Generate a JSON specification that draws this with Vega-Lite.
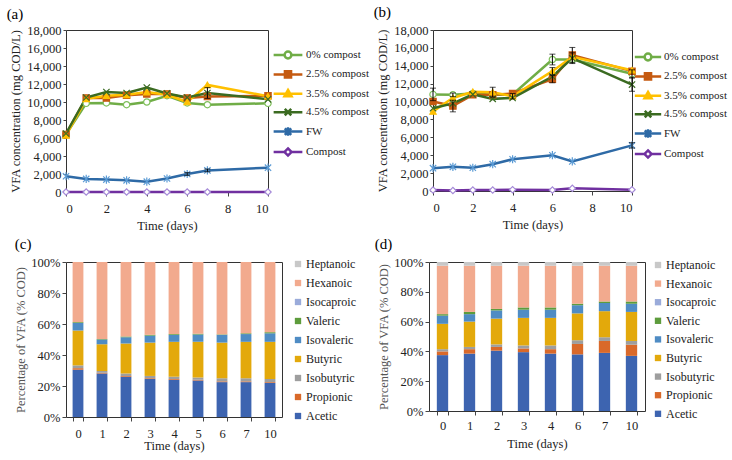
{
  "$schema": "https://vega.github.io/schema/vega-lite/v6.json",
  "background": "white",
  "padding": {"left": 6, "top": 4, "right": 0, "bottom": 0},
  "datasets": {
    "lines": [
      {"panel":"a","day":0,"series":"0% compost","v":6400,"err":0},
      {"panel":"a","day":0,"series":"2.5% compost","v":6400,"err":0},
      {"panel":"a","day":0,"series":"3.5% compost","v":6300,"err":0},
      {"panel":"a","day":0,"series":"4.5% compost","v":6500,"err":0},
      {"panel":"a","day":0,"series":"FW","v":1750,"err":0},
      {"panel":"a","day":0,"series":"Compost","v":0,"err":0},
      {"panel":"a","day":1,"series":"0% compost","v":9850,"err":0},
      {"panel":"a","day":1,"series":"2.5% compost","v":10450,"err":0},
      {"panel":"a","day":1,"series":"3.5% compost","v":10350,"err":0},
      {"panel":"a","day":1,"series":"4.5% compost","v":10500,"err":0},
      {"panel":"a","day":1,"series":"FW","v":1450,"err":0},
      {"panel":"a","day":1,"series":"Compost","v":0,"err":0},
      {"panel":"a","day":2,"series":"0% compost","v":9900,"err":0},
      {"panel":"a","day":2,"series":"2.5% compost","v":10450,"err":0},
      {"panel":"a","day":2,"series":"3.5% compost","v":10700,"err":0},
      {"panel":"a","day":2,"series":"4.5% compost","v":11100,"err":0},
      {"panel":"a","day":2,"series":"FW","v":1380,"err":0},
      {"panel":"a","day":2,"series":"Compost","v":0,"err":0},
      {"panel":"a","day":3,"series":"0% compost","v":9700,"err":0},
      {"panel":"a","day":3,"series":"2.5% compost","v":10750,"err":0},
      {"panel":"a","day":3,"series":"3.5% compost","v":10800,"err":0},
      {"panel":"a","day":3,"series":"4.5% compost","v":11000,"err":0},
      {"panel":"a","day":3,"series":"FW","v":1300,"err":0},
      {"panel":"a","day":3,"series":"Compost","v":0,"err":0},
      {"panel":"a","day":4,"series":"0% compost","v":10000,"err":0},
      {"panel":"a","day":4,"series":"2.5% compost","v":10900,"err":0},
      {"panel":"a","day":4,"series":"3.5% compost","v":11100,"err":0},
      {"panel":"a","day":4,"series":"4.5% compost","v":11600,"err":0},
      {"panel":"a","day":4,"series":"FW","v":1150,"err":0},
      {"panel":"a","day":4,"series":"Compost","v":0,"err":0},
      {"panel":"a","day":5,"series":"0% compost","v":10700,"err":0},
      {"panel":"a","day":5,"series":"2.5% compost","v":10900,"err":0},
      {"panel":"a","day":5,"series":"3.5% compost","v":10800,"err":0},
      {"panel":"a","day":5,"series":"4.5% compost","v":10950,"err":0},
      {"panel":"a","day":5,"series":"FW","v":1500,"err":0},
      {"panel":"a","day":5,"series":"Compost","v":0,"err":0},
      {"panel":"a","day":6,"series":"0% compost","v":9900,"err":0},
      {"panel":"a","day":6,"series":"2.5% compost","v":10450,"err":0},
      {"panel":"a","day":6,"series":"3.5% compost","v":10000,"err":0},
      {"panel":"a","day":6,"series":"4.5% compost","v":10500,"err":0},
      {"panel":"a","day":6,"series":"FW","v":2000,"err":150},
      {"panel":"a","day":6,"series":"Compost","v":0,"err":0},
      {"panel":"a","day":7,"series":"0% compost","v":9700,"err":0},
      {"panel":"a","day":7,"series":"2.5% compost","v":10600,"err":0},
      {"panel":"a","day":7,"series":"3.5% compost","v":11900,"err":0},
      {"panel":"a","day":7,"series":"4.5% compost","v":11000,"err":600},
      {"panel":"a","day":7,"series":"FW","v":2400,"err":150},
      {"panel":"a","day":7,"series":"Compost","v":0,"err":0},
      {"panel":"a","day":10,"series":"0% compost","v":9850,"err":0},
      {"panel":"a","day":10,"series":"2.5% compost","v":10700,"err":0},
      {"panel":"a","day":10,"series":"3.5% compost","v":10650,"err":0},
      {"panel":"a","day":10,"series":"4.5% compost","v":10300,"err":0},
      {"panel":"a","day":10,"series":"FW","v":2700,"err":0},
      {"panel":"a","day":10,"series":"Compost","v":0,"err":0},
      {"panel":"b","day":0,"series":"0% compost","v":10800,"err":700},
      {"panel":"b","day":0,"series":"2.5% compost","v":10000,"err":0},
      {"panel":"b","day":0,"series":"3.5% compost","v":8900,"err":0},
      {"panel":"b","day":0,"series":"4.5% compost","v":9250,"err":0},
      {"panel":"b","day":0,"series":"FW","v":2550,"err":0},
      {"panel":"b","day":0,"series":"Compost","v":100,"err":0},
      {"panel":"b","day":1,"series":"0% compost","v":10750,"err":200},
      {"panel":"b","day":1,"series":"2.5% compost","v":9500,"err":650},
      {"panel":"b","day":1,"series":"3.5% compost","v":10400,"err":0},
      {"panel":"b","day":1,"series":"4.5% compost","v":9800,"err":0},
      {"panel":"b","day":1,"series":"FW","v":2700,"err":0},
      {"panel":"b","day":1,"series":"Compost","v":50,"err":0},
      {"panel":"b","day":2,"series":"0% compost","v":10900,"err":0},
      {"panel":"b","day":2,"series":"2.5% compost","v":10750,"err":0},
      {"panel":"b","day":2,"series":"3.5% compost","v":11100,"err":0},
      {"panel":"b","day":2,"series":"4.5% compost","v":10800,"err":0},
      {"panel":"b","day":2,"series":"FW","v":2600,"err":0},
      {"panel":"b","day":2,"series":"Compost","v":100,"err":0},
      {"panel":"b","day":3,"series":"0% compost","v":10750,"err":0},
      {"panel":"b","day":3,"series":"2.5% compost","v":10750,"err":0},
      {"panel":"b","day":3,"series":"3.5% compost","v":11050,"err":550},
      {"panel":"b","day":3,"series":"4.5% compost","v":10300,"err":0},
      {"panel":"b","day":3,"series":"FW","v":3000,"err":0},
      {"panel":"b","day":3,"series":"Compost","v":100,"err":0},
      {"panel":"b","day":4,"series":"0% compost","v":10800,"err":0},
      {"panel":"b","day":4,"series":"2.5% compost","v":10900,"err":0},
      {"panel":"b","day":4,"series":"3.5% compost","v":10600,"err":300},
      {"panel":"b","day":4,"series":"4.5% compost","v":10400,"err":0},
      {"panel":"b","day":4,"series":"FW","v":3550,"err":0},
      {"panel":"b","day":4,"series":"Compost","v":150,"err":0},
      {"panel":"b","day":6,"series":"0% compost","v":14700,"err":600},
      {"panel":"b","day":6,"series":"2.5% compost","v":12500,"err":400},
      {"panel":"b","day":6,"series":"3.5% compost","v":13400,"err":400},
      {"panel":"b","day":6,"series":"4.5% compost","v":12800,"err":0},
      {"panel":"b","day":6,"series":"FW","v":4000,"err":0},
      {"panel":"b","day":6,"series":"Compost","v":100,"err":0},
      {"panel":"b","day":7,"series":"0% compost","v":14700,"err":0},
      {"panel":"b","day":7,"series":"2.5% compost","v":15200,"err":850},
      {"panel":"b","day":7,"series":"3.5% compost","v":15000,"err":0},
      {"panel":"b","day":7,"series":"4.5% compost","v":14850,"err":600},
      {"panel":"b","day":7,"series":"FW","v":3300,"err":0},
      {"panel":"b","day":7,"series":"Compost","v":300,"err":0},
      {"panel":"b","day":10,"series":"0% compost","v":13100,"err":450},
      {"panel":"b","day":10,"series":"2.5% compost","v":13400,"err":0},
      {"panel":"b","day":10,"series":"3.5% compost","v":13500,"err":0},
      {"panel":"b","day":10,"series":"4.5% compost","v":11900,"err":750},
      {"panel":"b","day":10,"series":"FW","v":5100,"err":300},
      {"panel":"b","day":10,"series":"Compost","v":150,"err":0}
    ],
    "bars": [
      {"panel":"c","day":0,"acid":"Acetic","pct":30.5},{"panel":"c","day":0,"acid":"Propionic","pct":1.0},{"panel":"c","day":0,"acid":"Isobutyric","pct":1.8},{"panel":"c","day":0,"acid":"Butyric","pct":22.5},{"panel":"c","day":0,"acid":"Isovaleric","pct":4.9},{"panel":"c","day":0,"acid":"Valeric","pct":0.5},{"panel":"c","day":0,"acid":"Isocaproic","pct":0},{"panel":"c","day":0,"acid":"Hexanoic","pct":38.8},{"panel":"c","day":0,"acid":"Heptanoic","pct":0},
      {"panel":"c","day":1,"acid":"Acetic","pct":28.0},{"panel":"c","day":1,"acid":"Propionic","pct":0.5},{"panel":"c","day":1,"acid":"Isobutyric","pct":1.2},{"panel":"c","day":1,"acid":"Butyric","pct":17.3},{"panel":"c","day":1,"acid":"Isovaleric","pct":3.0},{"panel":"c","day":1,"acid":"Valeric","pct":0.4},{"panel":"c","day":1,"acid":"Isocaproic","pct":0},{"panel":"c","day":1,"acid":"Hexanoic","pct":49.6},{"panel":"c","day":1,"acid":"Heptanoic","pct":0},
      {"panel":"c","day":2,"acid":"Acetic","pct":26.0},{"panel":"c","day":2,"acid":"Propionic","pct":0.5},{"panel":"c","day":2,"acid":"Isobutyric","pct":1.5},{"panel":"c","day":2,"acid":"Butyric","pct":19.5},{"panel":"c","day":2,"acid":"Isovaleric","pct":4.0},{"panel":"c","day":2,"acid":"Valeric","pct":0.5},{"panel":"c","day":2,"acid":"Isocaproic","pct":0},{"panel":"c","day":2,"acid":"Hexanoic","pct":48.0},{"panel":"c","day":2,"acid":"Heptanoic","pct":0},
      {"panel":"c","day":3,"acid":"Acetic","pct":24.5},{"panel":"c","day":3,"acid":"Propionic","pct":0.5},{"panel":"c","day":3,"acid":"Isobutyric","pct":1.5},{"panel":"c","day":3,"acid":"Butyric","pct":21.5},{"panel":"c","day":3,"acid":"Isovaleric","pct":4.5},{"panel":"c","day":3,"acid":"Valeric","pct":0.5},{"panel":"c","day":3,"acid":"Isocaproic","pct":0},{"panel":"c","day":3,"acid":"Hexanoic","pct":47.0},{"panel":"c","day":3,"acid":"Heptanoic","pct":0},
      {"panel":"c","day":4,"acid":"Acetic","pct":24.0},{"panel":"c","day":4,"acid":"Propionic","pct":0.5},{"panel":"c","day":4,"acid":"Isobutyric","pct":1.5},{"panel":"c","day":4,"acid":"Butyric","pct":22.5},{"panel":"c","day":4,"acid":"Isovaleric","pct":4.5},{"panel":"c","day":4,"acid":"Valeric","pct":0.5},{"panel":"c","day":4,"acid":"Isocaproic","pct":0},{"panel":"c","day":4,"acid":"Hexanoic","pct":46.5},{"panel":"c","day":4,"acid":"Heptanoic","pct":0},
      {"panel":"c","day":5,"acid":"Acetic","pct":23.5},{"panel":"c","day":5,"acid":"Propionic","pct":0.5},{"panel":"c","day":5,"acid":"Isobutyric","pct":1.5},{"panel":"c","day":5,"acid":"Butyric","pct":23.0},{"panel":"c","day":5,"acid":"Isovaleric","pct":4.7},{"panel":"c","day":5,"acid":"Valeric","pct":0.5},{"panel":"c","day":5,"acid":"Isocaproic","pct":0},{"panel":"c","day":5,"acid":"Hexanoic","pct":46.3},{"panel":"c","day":5,"acid":"Heptanoic","pct":0},
      {"panel":"c","day":6,"acid":"Acetic","pct":22.5},{"panel":"c","day":6,"acid":"Propionic","pct":0.5},{"panel":"c","day":6,"acid":"Isobutyric","pct":2.0},{"panel":"c","day":6,"acid":"Butyric","pct":23.0},{"panel":"c","day":6,"acid":"Isovaleric","pct":5.0},{"panel":"c","day":6,"acid":"Valeric","pct":0.3},{"panel":"c","day":6,"acid":"Isocaproic","pct":0},{"panel":"c","day":6,"acid":"Hexanoic","pct":46.7},{"panel":"c","day":6,"acid":"Heptanoic","pct":0},
      {"panel":"c","day":7,"acid":"Acetic","pct":22.5},{"panel":"c","day":7,"acid":"Propionic","pct":0.5},{"panel":"c","day":7,"acid":"Isobutyric","pct":2.0},{"panel":"c","day":7,"acid":"Butyric","pct":23.5},{"panel":"c","day":7,"acid":"Isovaleric","pct":5.0},{"panel":"c","day":7,"acid":"Valeric","pct":0.5},{"panel":"c","day":7,"acid":"Isocaproic","pct":0},{"panel":"c","day":7,"acid":"Hexanoic","pct":46.0},{"panel":"c","day":7,"acid":"Heptanoic","pct":0},
      {"panel":"c","day":10,"acid":"Acetic","pct":22.0},{"panel":"c","day":10,"acid":"Propionic","pct":0.5},{"panel":"c","day":10,"acid":"Isobutyric","pct":2.0},{"panel":"c","day":10,"acid":"Butyric","pct":24.0},{"panel":"c","day":10,"acid":"Isovaleric","pct":5.5},{"panel":"c","day":10,"acid":"Valeric","pct":0.7},{"panel":"c","day":10,"acid":"Isocaproic","pct":0},{"panel":"c","day":10,"acid":"Hexanoic","pct":45.3},{"panel":"c","day":10,"acid":"Heptanoic","pct":0},
      {"panel":"d","day":0,"acid":"Acetic","pct":37.5},{"panel":"d","day":0,"acid":"Propionic","pct":2.5},{"panel":"d","day":0,"acid":"Isobutyric","pct":1.5},{"panel":"d","day":0,"acid":"Butyric","pct":17.0},{"panel":"d","day":0,"acid":"Isovaleric","pct":5.5},{"panel":"d","day":0,"acid":"Valeric","pct":1.0},{"panel":"d","day":0,"acid":"Isocaproic","pct":0},{"panel":"d","day":0,"acid":"Hexanoic","pct":32.5},{"panel":"d","day":0,"acid":"Heptanoic","pct":2.5},
      {"panel":"d","day":1,"acid":"Acetic","pct":38.5},{"panel":"d","day":1,"acid":"Propionic","pct":3.0},{"panel":"d","day":1,"acid":"Isobutyric","pct":1.5},{"panel":"d","day":1,"acid":"Butyric","pct":17.0},{"panel":"d","day":1,"acid":"Isovaleric","pct":5.0},{"panel":"d","day":1,"acid":"Valeric","pct":1.5},{"panel":"d","day":1,"acid":"Isocaproic","pct":0},{"panel":"d","day":1,"acid":"Hexanoic","pct":31.0},{"panel":"d","day":1,"acid":"Heptanoic","pct":2.5},
      {"panel":"d","day":2,"acid":"Acetic","pct":40.5},{"panel":"d","day":2,"acid":"Propionic","pct":2.5},{"panel":"d","day":2,"acid":"Isobutyric","pct":1.7},{"panel":"d","day":2,"acid":"Butyric","pct":17.3},{"panel":"d","day":2,"acid":"Isovaleric","pct":5.5},{"panel":"d","day":2,"acid":"Valeric","pct":1.0},{"panel":"d","day":2,"acid":"Isocaproic","pct":0},{"panel":"d","day":2,"acid":"Hexanoic","pct":29.0},{"panel":"d","day":2,"acid":"Heptanoic","pct":2.5},
      {"panel":"d","day":3,"acid":"Acetic","pct":39.5},{"panel":"d","day":3,"acid":"Propionic","pct":2.5},{"panel":"d","day":3,"acid":"Isobutyric","pct":2.0},{"panel":"d","day":3,"acid":"Butyric","pct":18.5},{"panel":"d","day":3,"acid":"Isovaleric","pct":5.5},{"panel":"d","day":3,"acid":"Valeric","pct":1.5},{"panel":"d","day":3,"acid":"Isocaproic","pct":0},{"panel":"d","day":3,"acid":"Hexanoic","pct":28.0},{"panel":"d","day":3,"acid":"Heptanoic","pct":2.5},
      {"panel":"d","day":4,"acid":"Acetic","pct":38.5},{"panel":"d","day":4,"acid":"Propionic","pct":3.0},{"panel":"d","day":4,"acid":"Isobutyric","pct":2.5},{"panel":"d","day":4,"acid":"Butyric","pct":18.5},{"panel":"d","day":4,"acid":"Isovaleric","pct":5.5},{"panel":"d","day":4,"acid":"Valeric","pct":1.5},{"panel":"d","day":4,"acid":"Isocaproic","pct":0},{"panel":"d","day":4,"acid":"Hexanoic","pct":28.0},{"panel":"d","day":4,"acid":"Heptanoic","pct":2.5},
      {"panel":"d","day":6,"acid":"Acetic","pct":38.0},{"panel":"d","day":6,"acid":"Propionic","pct":7.0},{"panel":"d","day":6,"acid":"Isobutyric","pct":2.5},{"panel":"d","day":6,"acid":"Butyric","pct":18.0},{"panel":"d","day":6,"acid":"Isovaleric","pct":5.5},{"panel":"d","day":6,"acid":"Valeric","pct":1.0},{"panel":"d","day":6,"acid":"Isocaproic","pct":0},{"panel":"d","day":6,"acid":"Hexanoic","pct":25.5},{"panel":"d","day":6,"acid":"Heptanoic","pct":2.5},
      {"panel":"d","day":7,"acid":"Acetic","pct":39.0},{"panel":"d","day":7,"acid":"Propionic","pct":8.0},{"panel":"d","day":7,"acid":"Isobutyric","pct":2.5},{"panel":"d","day":7,"acid":"Butyric","pct":17.5},{"panel":"d","day":7,"acid":"Isovaleric","pct":5.5},{"panel":"d","day":7,"acid":"Valeric","pct":1.0},{"panel":"d","day":7,"acid":"Isocaproic","pct":0},{"panel":"d","day":7,"acid":"Hexanoic","pct":24.0},{"panel":"d","day":7,"acid":"Heptanoic","pct":2.5},
      {"panel":"d","day":10,"acid":"Acetic","pct":37.0},{"panel":"d","day":10,"acid":"Propionic","pct":7.5},{"panel":"d","day":10,"acid":"Isobutyric","pct":2.5},{"panel":"d","day":10,"acid":"Butyric","pct":19.5},{"panel":"d","day":10,"acid":"Isovaleric","pct":5.5},{"panel":"d","day":10,"acid":"Valeric","pct":1.5},{"panel":"d","day":10,"acid":"Isocaproic","pct":0},{"panel":"d","day":10,"acid":"Hexanoic","pct":24.0},{"panel":"d","day":10,"acid":"Heptanoic","pct":2.5}
    ]
  },
  "vconcat": [
    {
      "hconcat": [
        {
          "title": {"text": "(a)", "font": "Liberation Serif", "fontSize": 15, "fontWeight": "normal", "anchor": "start", "frame": "bounds", "offset": 2, "dx": -3},
          "width": 202, "height": 162,
          "data": {"name": "lines"},
          "transform": [{"filter": "datum.panel == 'a'"}],
          "encoding": {
            "x": {"field": "day", "type": "quantitative", "scale": {"domain": [0, 10], "nice": false}, "axis": {"values": [0, 2, 4, 6, 8, 10], "title": "Time (days)", "domain": false, "grid": false, "tickSize": 4, "tickColor": "#444", "labelPadding": 6, "labelFont": "Liberation Serif", "labelFontSize": 12.5, "labelColor": "#222", "titleFont": "Liberation Serif", "titleFontSize": 12.5, "titleFontWeight": "normal", "titleColor": "#222", "titlePadding": 5}},
            "y": {"field": "v", "type": "quantitative", "scale": {"domain": [0, 18000], "nice": false}, "axis": {"values": [0, 2000, 4000, 6000, 8000, 10000, 12000, 14000, 16000, 18000], "format": ",.0f", "title": "VFA concentration (mg COD/L)", "domain": false, "grid": false, "tickSize": 3, "tickColor": "#444", "labelPadding": 2, "labelFont": "Liberation Serif", "labelFontSize": 12.5, "labelColor": "#222", "titleFont": "Liberation Serif", "titleFontSize": 12.5, "titleFontWeight": "normal", "titleColor": "#222", "titlePadding": 4}}
          },
          "layer": [
            {
              "mark": {"type": "line", "strokeWidth": 2.5},
              "encoding": {
                "color": {"field": "series", "type": "nominal", "sort": ["0% compost", "2.5% compost", "3.5% compost", "4.5% compost", "FW", "Compost"],
                  "scale": {"domain": ["0% compost", "2.5% compost", "3.5% compost", "4.5% compost", "FW", "Compost"], "range": ["#70ad47", "#c55a11", "#ffc000", "#3b6b21", "#2e6aa6", "#7030a0"]},
                  "legend": {"title": null, "orient": "none", "legendX": 212, "legendY": 15, "symbolSize": 289, "symbolStrokeWidth": 2.5, "labelOffset": 8, "rowPadding": 0.4, "padding": 0, "labelFont": "Liberation Serif", "labelFontSize": 11, "labelColor": "#222",
                    "encode": {"symbols": {"update": {
                      "shape": {"signal": "datum.value == '0% compost' ? 'M-1.69,0H-0.4M0.4,0H1.69M0.4,0A0.4,0.4 0 1,1 -0.4,0A0.4,0.4 0 1,1 0.4,0Z' : datum.value == '2.5% compost' ? 'M-1.69,0H1.69M-0.36,-0.36H0.36V0.36H-0.36Z' : datum.value == '3.5% compost' ? 'M-1.69,0H1.69M0,-0.45L0.42,0.3H-0.42Z' : datum.value == '4.5% compost' ? 'M-1.69,0H1.69M-0.38,-0.38L0.38,0.38M-0.38,0.38L0.38,-0.38' : datum.value == 'FW' ? 'M-1.69,0H1.69M-0.38,-0.38L0.38,0.38M-0.38,0.38L0.38,-0.38M0,-0.5V0.5' : 'M-1.69,0H-0.42M0.42,0H1.69M0,-0.42L0.42,0L0,0.42L-0.42,0Z'"},
                      "fill": {"signal": "datum.value == '2.5% compost' ? '#c55a11' : datum.value == '3.5% compost' ? '#ffc000' : 'white'"}
                    }}}
                  }
                }
              }
            },
            {
              "mark": {"type": "point", "size": 40, "strokeWidth": 1.2, "opacity": 1},
              "encoding": {
                "shape": {"field": "series", "type": "nominal", "scale": {"domain": ["0% compost", "2.5% compost", "3.5% compost", "4.5% compost", "FW", "Compost"], "range": ["circle", "square", "triangle-up", "M-1,-1L1,1M-1,1L1,-1", "M-1,-1L1,1M-1,1L1,-1M0,-1.3V1.3", "diamond"]}, "legend": null},
                "stroke": {"field": "series", "type": "nominal", "scale": {"domain": ["0% compost", "2.5% compost", "3.5% compost", "4.5% compost", "FW", "Compost"], "range": ["#7ebf5a", "#c55a11", "#ffc000", "#3b6b21", "#5b9bd5", "#a58ad8"]}, "legend": null},
                "fill": {"field": "series", "type": "nominal", "scale": {"domain": ["0% compost", "2.5% compost", "3.5% compost", "4.5% compost", "FW", "Compost"], "range": ["white", "#c55a11", "#ffc000", "white", "white", "white"]}, "legend": null}
              }
            },
            {
              "transform": [{"filter": "datum.err > 0"}],
              "mark": {"type": "errorbar", "ticks": {"size": 6, "color": "#000"}, "rule": {"color": "#000", "strokeWidth": 1}},
              "encoding": {"yError": {"field": "err"}}
            }
          ],
          "resolve": {"scale": {"color": "independent", "shape": "independent", "stroke": "independent", "fill": "independent"}}
        },
        {
          "title": {"text": "(b)", "font": "Liberation Serif", "fontSize": 15, "fontWeight": "normal", "anchor": "start", "frame": "bounds", "offset": 4, "dx": -3},
          "width": 199, "height": 161,
          "data": {"name": "lines"},
          "transform": [{"filter": "datum.panel == 'b'"}],
          "encoding": {
            "x": {"field": "day", "type": "quantitative", "scale": {"domain": [0, 10], "nice": false}, "axis": {"values": [0, 2, 4, 6, 8, 10], "title": "Time (days)", "domain": false, "grid": false, "tickSize": 4, "tickColor": "#444", "labelPadding": 6, "labelFont": "Liberation Serif", "labelFontSize": 12.5, "labelColor": "#222", "titleFont": "Liberation Serif", "titleFontSize": 12.5, "titleFontWeight": "normal", "titleColor": "#222", "titlePadding": 5}},
            "y": {"field": "v", "type": "quantitative", "scale": {"domain": [0, 18000], "nice": false}, "axis": {"values": [0, 2000, 4000, 6000, 8000, 10000, 12000, 14000, 16000, 18000], "format": ",.0f", "title": "VFA concentration (mg COD/L)", "domain": false, "grid": false, "tickSize": 3, "tickColor": "#444", "labelPadding": 2, "labelFont": "Liberation Serif", "labelFontSize": 12.5, "labelColor": "#222", "titleFont": "Liberation Serif", "titleFontSize": 12.5, "titleFontWeight": "normal", "titleColor": "#222", "titlePadding": 4}}
          },
          "layer": [
            {
              "mark": {"type": "line", "strokeWidth": 2.5},
              "encoding": {
                "color": {"field": "series", "type": "nominal", "sort": ["0% compost", "2.5% compost", "3.5% compost", "4.5% compost", "FW", "Compost"],
                  "scale": {"domain": ["0% compost", "2.5% compost", "3.5% compost", "4.5% compost", "FW", "Compost"], "range": ["#70ad47", "#c55a11", "#ffc000", "#3b6b21", "#2e6aa6", "#7030a0"]},
                  "legend": {"title": null, "orient": "none", "legendX": 205, "legendY": 17, "symbolSize": 289, "symbolStrokeWidth": 2.5, "labelOffset": 6, "rowPadding": 0.4, "padding": 0, "labelFont": "Liberation Serif", "labelFontSize": 11, "labelColor": "#222",
                    "encode": {"symbols": {"update": {
                      "shape": {"signal": "datum.value == '0% compost' ? 'M-1.55,0H-0.4M0.4,0H1.55M0.4,0A0.4,0.4 0 1,1 -0.4,0A0.4,0.4 0 1,1 0.4,0Z' : datum.value == '2.5% compost' ? 'M-1.55,0H1.55M-0.36,-0.36H0.36V0.36H-0.36Z' : datum.value == '3.5% compost' ? 'M-1.55,0H1.55M0,-0.45L0.42,0.3H-0.42Z' : datum.value == '4.5% compost' ? 'M-1.55,0H1.55M-0.38,-0.38L0.38,0.38M-0.38,0.38L0.38,-0.38' : datum.value == 'FW' ? 'M-1.55,0H1.55M-0.38,-0.38L0.38,0.38M-0.38,0.38L0.38,-0.38M0,-0.5V0.5' : 'M-1.55,0H-0.42M0.42,0H1.55M0,-0.42L0.42,0L0,0.42L-0.42,0Z'"},
                      "fill": {"signal": "datum.value == '2.5% compost' ? '#c55a11' : datum.value == '3.5% compost' ? '#ffc000' : 'white'"}
                    }}}
                  }
                }
              }
            },
            {
              "mark": {"type": "point", "size": 40, "strokeWidth": 1.2, "opacity": 1},
              "encoding": {
                "shape": {"field": "series", "type": "nominal", "scale": {"domain": ["0% compost", "2.5% compost", "3.5% compost", "4.5% compost", "FW", "Compost"], "range": ["circle", "square", "triangle-up", "M-1,-1L1,1M-1,1L1,-1", "M-1,-1L1,1M-1,1L1,-1M0,-1.3V1.3", "diamond"]}, "legend": null},
                "stroke": {"field": "series", "type": "nominal", "scale": {"domain": ["0% compost", "2.5% compost", "3.5% compost", "4.5% compost", "FW", "Compost"], "range": ["#7ebf5a", "#c55a11", "#ffc000", "#3b6b21", "#5b9bd5", "#a58ad8"]}, "legend": null},
                "fill": {"field": "series", "type": "nominal", "scale": {"domain": ["0% compost", "2.5% compost", "3.5% compost", "4.5% compost", "FW", "Compost"], "range": ["white", "#c55a11", "#ffc000", "white", "white", "white"]}, "legend": null}
              }
            },
            {
              "transform": [{"filter": "datum.err > 0"}],
              "mark": {"type": "errorbar", "ticks": {"size": 6, "color": "#000"}, "rule": {"color": "#000", "strokeWidth": 1}},
              "encoding": {"yError": {"field": "err"}}
            }
          ],
          "resolve": {"scale": {"color": "independent", "shape": "independent", "stroke": "independent", "fill": "independent"}}
        }
      ],
      "spacing": 3,
      "resolve": {"scale": {"x": "independent", "y": "independent", "color": "independent", "shape": "independent", "stroke": "independent", "fill": "independent"}}
    },
    {
      "hconcat": [
        {
          "title": {"text": "(c)", "font": "Liberation Serif", "fontSize": 15, "fontWeight": "normal", "anchor": "start", "frame": "bounds", "offset": 4, "dx": 0},
          "width": 216, "height": 155,
          "data": {"name": "bars"},
          "transform": [{"filter": "datum.panel == 'c'"}, {"calculate": "indexof(['Acetic','Propionic','Isobutyric','Butyric','Isovaleric','Valeric','Isocaproic','Hexanoic','Heptanoic'], datum.acid)", "as": "stackorder"}],
          "mark": {"type": "bar"},
          "encoding": {
            "x": {"field": "day", "type": "ordinal", "scale": {"paddingInner": 0.55, "paddingOuter": 0.275}, "axis": {"labelAngle": 0, "title": "Time (days)", "tickBand": "extent", "domain": false, "tickSize": 4, "tickColor": "#444", "labelPadding": 6, "labelFont": "Liberation Serif", "labelFontSize": 12.5, "labelColor": "#222", "titleFont": "Liberation Serif", "titleFontSize": 12.5, "titleFontWeight": "normal", "titleColor": "#222", "titlePadding": 0}},
            "y": {"field": "pct", "type": "quantitative", "stack": "normalize", "scale": {"domain": [0, 1], "nice": false}, "axis": {"values": [0, 0.2, 0.4, 0.6, 0.8, 1], "format": ".0%", "title": "Percentage of VFA (% COD)", "domain": false, "grid": false, "tickSize": 4, "tickColor": "#444", "labelPadding": 2, "labelFont": "Liberation Serif", "labelFontSize": 12.5, "labelColor": "#222", "titleFont": "Liberation Serif", "titleFontSize": 12.5, "titleFontWeight": "normal", "titleColor": "#555", "titlePadding": 3}},
            "order": {"field": "stackorder", "type": "quantitative", "sort": "ascending"},
            "color": {"field": "acid", "type": "nominal",
              "scale": {"domain": ["Acetic", "Propionic", "Isobutyric", "Butyric", "Isovaleric", "Valeric", "Isocaproic", "Hexanoic", "Heptanoic"], "range": ["#3d64b0", "#d9692a", "#9e9e9e", "#e3a90b", "#4f8cc4", "#5d9c3c", "#9aabda", "#f2aa8e", "#c8c8c8"]},
              "legend": {"title": null, "orient": "none", "legendX": 226, "legendY": -4, "values": ["Heptanoic", "Hexanoic", "Isocaproic", "Valeric", "Isovaleric", "Butyric", "Isobutyric", "Propionic", "Acetic"], "symbolType": "square", "symbolSize": 40, "symbolStrokeWidth": 0, "labelOffset": 2, "rowPadding": 7, "padding": 0, "labelFont": "Liberation Serif", "labelFontSize": 12, "labelColor": "#222"}
            }
          }
        },
        {
          "title": {"text": "(d)", "font": "Liberation Serif", "fontSize": 15, "fontWeight": "normal", "anchor": "start", "frame": "bounds", "offset": 4, "dx": -3},
          "width": 216, "height": 149,
          "data": {"name": "bars"},
          "transform": [{"filter": "datum.panel == 'd'"}, {"calculate": "indexof(['Acetic','Propionic','Isobutyric','Butyric','Isovaleric','Valeric','Isocaproic','Hexanoic','Heptanoic'], datum.acid)", "as": "stackorder"}],
          "mark": {"type": "bar"},
          "encoding": {
            "x": {"field": "day", "type": "ordinal", "scale": {"paddingInner": 0.58, "paddingOuter": 0.29}, "axis": {"labelAngle": 0, "title": "Time (days)", "tickBand": "extent", "domain": false, "tickSize": 4, "tickColor": "#444", "labelPadding": 4, "labelFont": "Liberation Serif", "labelFontSize": 12.5, "labelColor": "#222", "titleFont": "Liberation Serif", "titleFontSize": 12.5, "titleFontWeight": "normal", "titleColor": "#222", "titlePadding": 6}},
            "y": {"field": "pct", "type": "quantitative", "stack": "normalize", "scale": {"domain": [0, 1], "nice": false}, "axis": {"values": [0, 0.2, 0.4, 0.6, 0.8, 1], "format": ".0%", "title": "Percentage of VFA (% COD)", "domain": false, "grid": false, "tickSize": 4, "tickColor": "#444", "labelPadding": 2, "labelFont": "Liberation Serif", "labelFontSize": 12.5, "labelColor": "#222", "titleFont": "Liberation Serif", "titleFontSize": 12.5, "titleFontWeight": "normal", "titleColor": "#555", "titlePadding": 3}},
            "order": {"field": "stackorder", "type": "quantitative", "sort": "ascending"},
            "color": {"field": "acid", "type": "nominal",
              "scale": {"domain": ["Acetic", "Propionic", "Isobutyric", "Butyric", "Isovaleric", "Valeric", "Isocaproic", "Hexanoic", "Heptanoic"], "range": ["#3d64b0", "#d9692a", "#9e9e9e", "#e3a90b", "#4f8cc4", "#5d9c3c", "#9aabda", "#f2aa8e", "#c8c8c8"]},
              "legend": {"title": null, "orient": "none", "legendX": 223, "legendY": -3, "values": ["Heptanoic", "Hexanoic", "Isocaproic", "Valeric", "Isovaleric", "Butyric", "Isobutyric", "Propionic", "Acetic"], "symbolType": "square", "symbolSize": 40, "symbolStrokeWidth": 0, "labelOffset": 2, "rowPadding": 6.6, "padding": 0, "labelFont": "Liberation Serif", "labelFontSize": 12, "labelColor": "#222"}
            }
          }
        }
      ],
      "spacing": 17,
      "resolve": {"scale": {"x": "independent", "y": "independent", "color": "independent"}}
    }
  ],
  "spacing": 3,
  "resolve": {"scale": {"x": "independent", "y": "independent", "color": "independent", "shape": "independent", "stroke": "independent", "fill": "independent"}},
  "config": {
    "font": "Liberation Serif",
    "view": {"stroke": "#333", "strokeWidth": 1},
    "axis": {"grid": false},
    "title": {"font": "Liberation Serif", "fontWeight": "normal"}
  }
}
